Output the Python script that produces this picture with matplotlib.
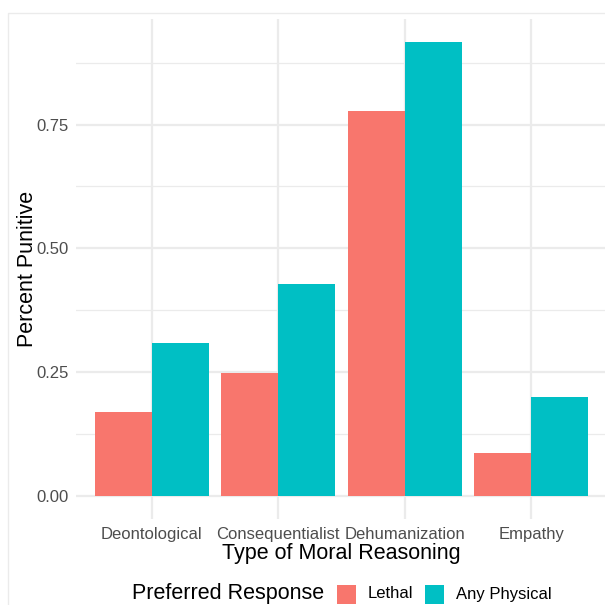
import matplotlib
matplotlib.use("Agg")
import matplotlib.pyplot as plt
from matplotlib.patches import Rectangle
import numpy as np

categories = ["Deontological", "Consequentialist", "Dehumanization", "Empathy"]
lethal = [0.171, 0.248, 0.778, 0.087]
any_physical = [0.310, 0.429, 0.917, 0.200]
series_names = ["Lethal", "Any Physical"]
series_colors = ["#F8766D", "#00BFC4"]
yticks = [0.0, 0.25, 0.50, 0.75]
yticklabels = ["0.00", "0.25", "0.50", "0.75"]

plt.rcParams['font.family'] = ['Liberation Sans', 'DejaVu Sans']

W = H = 605
fig = plt.figure(figsize=(6.05, 6.05), dpi=100)
fig.patch.set_facecolor("white")

def fx(px):
    return px / W

def fy(py):
    return 1 - py / H

# faint outer frame
fig.patches.append(Rectangle((fx(7.5), fy(700)), fx(700), (700 - 13) / H,
                             transform=fig.transFigure, fill=False,
                             edgecolor="#ebebeb", linewidth=1.0))

left, right, top, bottom = 76, 607, 19, 519
ax = fig.add_axes([fx(left), fy(bottom), (right - left) / W, (bottom - top) / H])
ax.set_facecolor("white")

x = np.arange(1, len(categories) + 1)
w = 0.45
ax.bar(x - w / 2, lethal, width=w, color=series_colors[0], label=series_names[0], zorder=3)
ax.bar(x + w / 2, any_physical, width=w, color=series_colors[1], label=series_names[1], zorder=3)

ymax = max(max(lethal), max(any_physical))
pad = ymax * 0.05
ax.set_ylim(-pad, ymax + pad)
ax.set_xlim(0.4, 4.6)

ax.set_yticks(yticks)
ax.set_yticklabels(yticklabels)
ax.set_yticks([0.125, 0.375, 0.625, 0.875], minor=True)
ax.set_xticks(x)
ax.set_xticklabels(categories)

ax.grid(True, which="major", color="#ebebeb", linewidth=1.6, zorder=0)
ax.grid(True, which="minor", axis="y", color="#ebebeb", linewidth=0.9, zorder=0)
for s in ax.spines.values():
    s.set_visible(False)
ax.tick_params(axis="both", which="both", length=0)
ax.tick_params(axis="both", labelsize=12, labelcolor="#4d4d4d")
ax.tick_params(axis="x", pad=5.5)
ax.tick_params(axis="y", pad=5)

ax.set_xlabel("Type of Moral Reasoning", fontsize=15.5, color="black", labelpad=1)
ax.set_ylabel("Percent Punitive", fontsize=15.5, color="black", labelpad=-1)

# legend (bottom, horizontal)
ly = 594
fig.text(fx(132), fy(ly), "Preferred Response", fontsize=15.5, ha="left", va="center")
key_x = [337, 425]
lab_x = [368, 456]
for kx, lx, name, col in zip(key_x, lab_x, series_names, series_colors):
    fig.patches.append(Rectangle((fx(kx), fy(ly + 9.5)), 19 / W, 19 / H,
                                 transform=fig.transFigure, facecolor=col, edgecolor="none"))
    fig.text(fx(lx), fy(ly), name, fontsize=12, ha="left", va="center")

fig.savefig("out.png", dpi=100)
